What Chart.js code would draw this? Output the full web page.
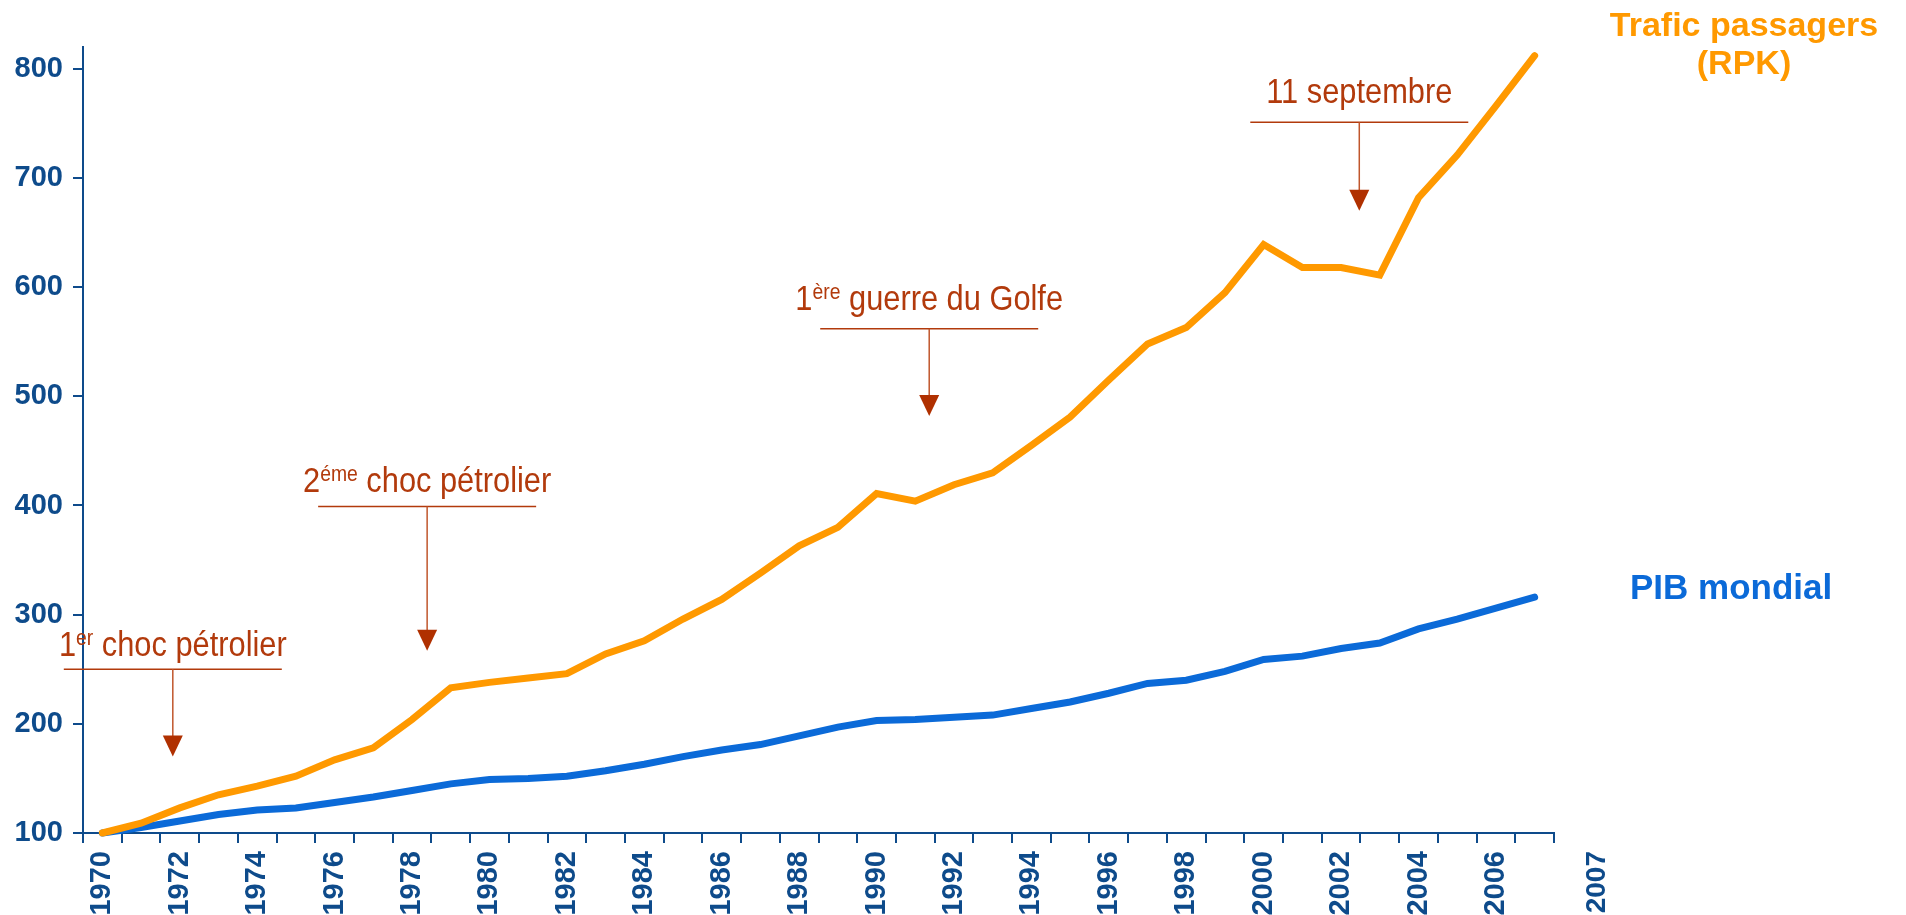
<!DOCTYPE html>
<html>
<head>
<meta charset="utf-8">
<script src="https://cdn.jsdelivr.net/npm/chart.js@4"></script>
<style>
    html, body { margin: 0; padding: 0; background: #fff; }
    #wrap { width: 1906px; height: 915px; }
</style>
</head>
<body>
<div id="wrap"><canvas id="myChart" width="1906" height="915"></canvas></div>
<script>
// base 100 en 1970
const years = [1970, 1971, 1972, 1973, 1974, 1975, 1976, 1977, 1978, 1979,
    1980, 1981, 1982, 1983, 1984, 1985, 1986, 1987, 1988, 1989,
    1990, 1991, 1992, 1993, 1994, 1995, 1996, 1997, 1998, 1999,
    2000, 2001, 2002, 2003, 2004, 2005, 2006, 2007]

const traficRpk = [100, 109, 123, 135, 143, 152, 167, 178, 204, 233,
    238, 242, 246, 264, 276, 296, 314, 338, 363, 380,
    411, 404, 419, 430, 455, 481, 515, 548, 563, 595,
    639, 618, 618, 611, 682, 721, 766, 812]

const pibMondial = [100, 105, 111, 117, 121, 123, 128, 133, 139, 145,
    149, 150, 152, 157, 163, 170, 176, 181, 189, 197,
    203, 204, 206, 208, 214, 220, 228, 237, 240, 248,
    259, 262, 269, 274, 287, 296, 306, 316]

const yMin = 100
const yMax = 820
const yStep = 100

// evenements : annee de la fleche, valeurs du texte, du trait et de la pointe
const events = [
    { pre: '1', sup: 'er', post: ' choc pétrolier', year: 1971.82, textY: 262, lineY: 250, tipY: 170 },
    { pre: '2', sup: 'éme', post: ' choc pétrolier', year: 1978.39, textY: 412, lineY: 399, tipY: 267 },
    { pre: '1', sup: 'ère', post: ' guerre du Golfe', year: 1991.36, textY: 579, lineY: 562, tipY: 482 },
    { pre: '11 septembre', sup: '', post: '', year: 2002.47, textY: 769, lineY: 751, tipY: 670 }
]

const axisColor = '#0e4b8b'
const orange = '#ff9900'
const blue = '#0b6ad8'
const rust = '#b23a0c'
const sans = '"Liberation Sans", Arial, sans-serif'

// texte etroit : Arial comprime horizontalement
function drawEventText(ctx, ev, cx, baseline, size) {
    const sx = 0.88
    const mainFont = size + 'px ' + sans
    const supFont = Math.round(size * 0.64) + 'px ' + sans
    ctx.font = mainFont
    const w1 = ctx.measureText(ev.pre).width
    const w3 = ctx.measureText(ev.post).width
    ctx.font = supFont
    const w2 = ctx.measureText(ev.sup).width
    ctx.save()
    ctx.translate(cx, baseline)
    ctx.scale(sx, 1)
    let x = -(w1 + w2 + w3) / 2
    ctx.textAlign = 'left'
    ctx.textBaseline = 'alphabetic'
    ctx.font = mainFont
    ctx.fillText(ev.pre, x, 0)
    x += w1
    ctx.font = supFont
    ctx.fillText(ev.sup, x, -size * 0.32)
    x += w2
    ctx.font = mainFont
    ctx.fillText(ev.post, x, 0)
    ctx.restore()
}

const annotations = {
    id: 'annotations',
    afterDraw(chart) {
        const ctx = chart.ctx
        const xs = chart.scales.x
        const ys = chart.scales.y
        const area = chart.chartArea
        ctx.save()

        events.forEach(ev => {
            const cx = xs.getPixelForValue(ev.year - years[0])
            const ty = ys.getPixelForValue(ev.textY)
            const ly = ys.getPixelForValue(ev.lineY)
            const tip = ys.getPixelForValue(ev.tipY)
            ctx.fillStyle = rust
            drawEventText(ctx, ev, cx, ty, 35)

            ctx.strokeStyle = rust
            ctx.lineWidth = 1.5
            ctx.beginPath()
            ctx.moveTo(cx - 109, ly)
            ctx.lineTo(cx + 109, ly)
            ctx.stroke()

            ctx.strokeStyle = '#c0562c'
            ctx.beginPath()
            ctx.moveTo(cx, ly)
            ctx.lineTo(cx, tip - 20)
            ctx.stroke()

            ctx.fillStyle = '#b03000'
            ctx.beginPath()
            ctx.moveTo(cx - 10, tip - 21)
            ctx.lineTo(cx + 10, tip - 21)
            ctx.lineTo(cx, tip)
            ctx.closePath()
            ctx.fill()
        })

        // noms des series
        ctx.font = 'bold 34px ' + sans
        ctx.textBaseline = 'alphabetic'
        ctx.fillStyle = orange
        ctx.textAlign = 'center'
        ctx.fillText('Trafic passagers', area.right + 190, 36)
        ctx.fillText('(RPK)', area.right + 190, 74)
        ctx.fillStyle = blue
        ctx.textAlign = 'left'
        ctx.font = 'bold 35px ' + sans
        ctx.fillText('PIB mondial', area.right + 76, 599)

        // etiquette 2007 decalee
        ctx.font = 'bold 28px ' + sans
        ctx.fillStyle = axisColor
        ctx.translate(xs.getPixelForValue(years.length - 1) + 63, area.bottom + 18)
        ctx.rotate(-Math.PI / 2)
        ctx.textAlign = 'right'
        ctx.textBaseline = 'middle'
        ctx.fillText('2007', 0, 0)
        ctx.restore()
    }
}

function displayChart() {
    const ctx = document.getElementById('myChart')
    new Chart(ctx, {
        type: 'line',
        data: {
            labels: years,
            datasets: [{
                label: 'Trafic passagers (RPK)',
                data: traficRpk,
                borderColor: orange,
                borderWidth: 7,
                borderCapStyle: 'round',
                pointRadius: 0,
                tension: 0,
                fill: false,
                clip: false
            }, {
                label: 'PIB mondial',
                data: pibMondial,
                borderColor: blue,
                borderWidth: 7,
                borderCapStyle: 'round',
                pointRadius: 0,
                tension: 0,
                fill: false,
                clip: false
            }]
        },
        options: {
            responsive: false,
            animation: false,
            devicePixelRatio: 1,
            layout: { padding: { left: 0, top: 47, right: 352, bottom: 0 } },
            plugins: {
                legend: { display: false },
                tooltip: { enabled: false }
            },
            scales: {
                x: {
                    offset: true,
                    grid: { offset: true, drawOnChartArea: false, tickLength: 10, color: axisColor, lineWidth: 2 },
                    border: { display: true, color: axisColor, width: 2 },
                    ticks: {
                        autoSkip: false,
                        minRotation: 90,
                        maxRotation: 90,
                        padding: 8,
                        color: axisColor,
                        font: { family: sans, size: 29, weight: 'bold' },
                        callback: function(val, i) {
                            const yr = years[i]
                            return (yr % 2 === 0) ? String(yr) : ''
                        }
                    },
                    afterFit: function(scale) { scale.height = 82 }
                },
                y: {
                    min: yMin,
                    max: yMax,
                    grid: { drawOnChartArea: false, tickLength: 10, color: axisColor, lineWidth: 2 },
                    border: { display: true, color: axisColor, width: 2 },
                    ticks: {
                        stepSize: yStep,
                        includeBounds: false,
                        padding: 10,
                        color: axisColor,
                        font: { family: sans, size: 29, weight: 'bold' }
                    },
                    afterFit: function(scale) { scale.width = 83 }
                }
            }
        },
        plugins: [annotations]
    })
}

document.addEventListener('DOMContentLoaded', () => {
    displayChart()
})
</script>
</body>
</html>
